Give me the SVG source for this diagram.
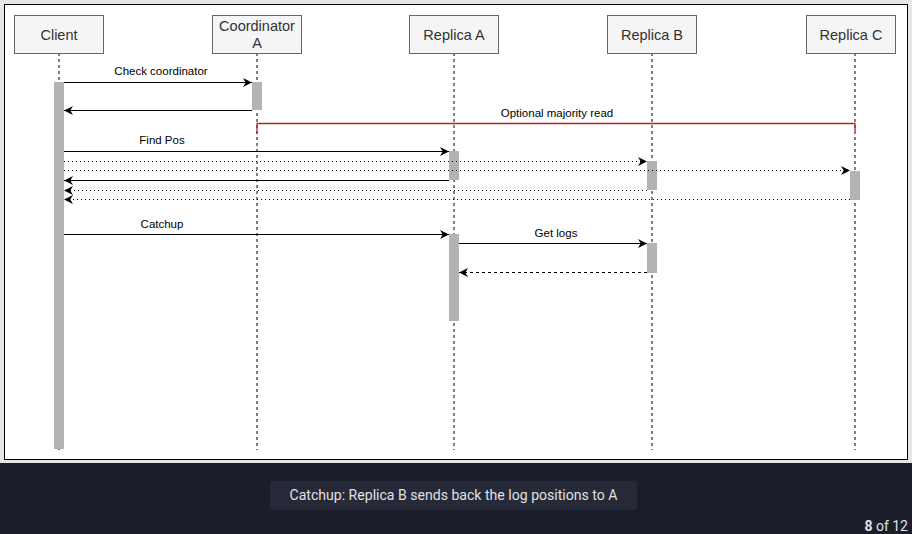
<svg xmlns="http://www.w3.org/2000/svg" width="912" height="534" viewBox="0 0 912 534">
<style>
.box{fill:#f5f5f5;stroke:#666;stroke-width:1}
.bt{font-family:"Liberation Sans",Arial,sans-serif;font-size:14.5px;fill:#333;text-anchor:middle}
.lt{font-family:"Liberation Sans",Arial,sans-serif;font-size:11.5px;fill:#000;text-anchor:middle}
.life{stroke:#000;stroke-width:1;stroke-dasharray:3,3;fill:none}
.act{fill:#b3b3b3}
.msg{stroke:#000;stroke-width:1;fill:none}
.dot{stroke:#000;stroke-width:1;stroke-dasharray:1,3;fill:none}
.dash{stroke:#000;stroke-width:1;stroke-dasharray:3,3;fill:none}
</style>
<defs>
<marker id="ah" viewBox="0 0 10 10" refX="10" refY="5" markerWidth="9" markerHeight="9" markerUnits="userSpaceOnUse" orient="auto">
<path d="M0,0 L10,5 L0,10 L3,5 Z" fill="#000"/>
</marker>
</defs>
<rect x="0" y="0" width="912" height="463" fill="#e6e6e6"/>
<rect x="4.5" y="4.5" width="903" height="455" fill="#fff" stroke="#000" stroke-width="1"/>
<rect x="0" y="463" width="912" height="71" fill="#1b1d2a"/>
<rect x="270" y="481" width="367" height="29" rx="3" fill="#262938"/>
<text x="453.5" y="500" font-family="Roboto,'Liberation Sans',sans-serif" font-size="14" fill="#e0e0e0" text-anchor="middle" textLength="328" lengthAdjust="spacingAndGlyphs">Catchup: Replica B sends back the log positions to A</text>
<text x="908" y="531" font-family="Roboto,'Liberation Sans',sans-serif" font-size="14" fill="#e0e0e0" text-anchor="end"><tspan font-weight="bold">8</tspan> of 12</text>

<g id="client">
<line class="life" x1="59" y1="53" x2="59" y2="450"/>
<rect class="box" x="14.5" y="15.5" width="89" height="38"/>
<text class="bt" x="59" y="40">Client</text>
<rect class="act" x="54" y="82" width="10" height="367"/>
</g>
<g id="coordinator">
<line class="life" x1="257" y1="53" x2="257" y2="450"/>
<rect class="box" x="212.5" y="15.5" width="89" height="38"/>
<text class="bt" x="257" y="31">Coordinator</text>
<text class="bt" x="257" y="48">A</text>
<rect class="act" x="252" y="82" width="10" height="28"/>
</g>
<g id="replicaA">
<line class="life" x1="454" y1="53" x2="454" y2="450"/>
<rect class="box" x="409.5" y="15.5" width="89" height="38"/>
<text class="bt" x="454" y="40">Replica A</text>
<rect class="act" x="449" y="151" width="10" height="29"/>
<rect class="act" x="449" y="234" width="10" height="87"/>
</g>
<g id="replicaB">
<line class="life" x1="652" y1="53" x2="652" y2="450"/>
<rect class="box" x="607.5" y="15.5" width="89" height="38"/>
<text class="bt" x="652" y="40">Replica B</text>
<rect class="act" x="647" y="161" width="10" height="29"/>
<rect class="act" x="647" y="243" width="10" height="30"/>
</g>
<g id="replicaC">
<line class="life" x1="855" y1="53" x2="855" y2="450"/>
<rect class="box" x="806.5" y="15.5" width="89" height="38"/>
<text class="bt" x="851" y="40">Replica C</text>
<rect class="act" x="850" y="171" width="10" height="29"/>
</g>

<g id="connectors">
<line class="msg" x1="64" y1="82.5" x2="252" y2="82.5" marker-end="url(#ah)"/>
<text class="lt" x="161" y="75">Check coordinator</text>
<line class="msg" x1="252" y1="110.5" x2="64" y2="110.5" marker-end="url(#ah)"/>
<path d="M257,134 V123.5 H855 V131" fill="none" stroke="#b22424" stroke-width="1.3"/>
<text class="lt" x="557" y="117">Optional majority read</text>
<line class="msg" x1="64" y1="151.5" x2="449" y2="151.5" marker-end="url(#ah)"/>
<text class="lt" x="162" y="144">Find Pos</text>
<line class="dot" x1="64" y1="161.5" x2="647" y2="161.5" marker-end="url(#ah)"/>
<line class="dot" x1="64" y1="170.5" x2="850" y2="170.5" marker-end="url(#ah)"/>
<line class="msg" x1="449" y1="180.5" x2="64" y2="180.5" marker-end="url(#ah)"/>
<line class="dot" x1="647" y1="190.5" x2="64" y2="190.5" marker-end="url(#ah)"/>
<line class="dot" x1="850" y1="199.5" x2="64" y2="199.5" marker-end="url(#ah)"/>
<line class="msg" x1="64" y1="234.5" x2="449" y2="234.5" marker-end="url(#ah)"/>
<text class="lt" x="162" y="228">Catchup</text>
<line class="msg" x1="459" y1="243.5" x2="647" y2="243.5" marker-end="url(#ah)"/>
<text class="lt" x="556" y="237">Get logs</text>
<line class="dash" x1="647" y1="272.5" x2="459" y2="272.5" marker-end="url(#ah)"/>
</g>
</svg>
